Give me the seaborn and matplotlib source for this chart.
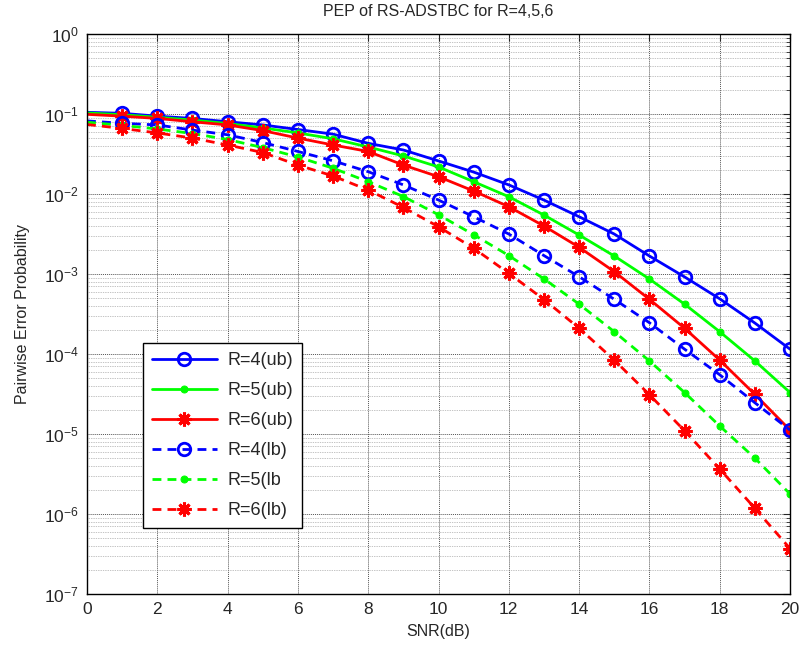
import numpy as np
import pandas as pd
import matplotlib
matplotlib.use("Agg")
import matplotlib.pyplot as plt
import seaborn as sns
from matplotlib.ticker import FixedLocator, NullFormatter, LogFormatterSciNotation

snr = list(range(0, 21))

r4_ub = [0.105, 0.102, 0.094, 0.088, 0.080, 0.073, 0.064, 0.056, 0.043, 0.0355, 0.0259,
         0.0188, 0.0130, 0.0084, 0.0052, 0.00316, 0.00168, 9.2e-4, 4.9e-4, 2.44e-4, 1.15e-4]
r5_ub = [0.103, 0.098, 0.091, 0.084, 0.076, 0.067, 0.058, 0.049, 0.0387, 0.0299, 0.0218,
         0.01425, 0.00925, 0.00546, 0.00307, 0.00168, 8.66e-4, 4.2e-4, 1.9e-4, 8.2e-5, 3.3e-5]
r6_ub = [0.099, 0.094, 0.088, 0.080, 0.073, 0.062, 0.050, 0.041, 0.034, 0.0230, 0.01645,
         0.0109, 0.00694, 0.00398, 0.00216, 0.00107, 4.83e-4, 2.1e-4, 8.4e-5, 3.13e-5, 1.12e-5]
r4_lb = [0.082, 0.0765, 0.073, 0.063, 0.055, 0.044, 0.034, 0.026, 0.019, 0.013, 0.0084,
         0.0052, 0.00316, 0.0017, 9.25e-4, 4.83e-4, 2.46e-4, 1.15e-4, 5.5e-5, 2.46e-5, 1.12e-5]
r5_lb = [0.079, 0.072, 0.065, 0.057, 0.048, 0.038, 0.029, 0.021, 0.01425, 0.0093, 0.0055,
         0.0031, 0.0017, 8.7e-4, 4.2e-4, 1.9e-4, 8.2e-5, 3.3e-5, 1.26e-5, 5.0e-6, 1.78e-6]
r6_lb = [0.074, 0.066, 0.058, 0.050, 0.041, 0.033, 0.023, 0.0168, 0.0112, 0.0068, 0.0039,
         0.0021, 0.00102, 4.8e-4, 2.1e-4, 8.4e-5, 3.1e-5, 1.1e-5, 3.65e-6, 1.18e-6, 3.7e-7]

labels = ["R=4(ub)", "R=5(ub)", "R=6(ub)", "R=4(lb)", "R=5(lb", "R=6(lb)"]
series = [r4_ub, r5_ub, r6_ub, r4_lb, r5_lb, r6_lb]
colors = ["#0000ff", "#00ff00", "#ff0000", "#0000ff", "#00ff00", "#ff0000"]
styles = ["-", "-", "-", "--", "--", "--"]
markers = ["o", ".", (8, 2, 0), "o", ".", (8, 2, 0)]
y_ticks = [1e-7, 1e-6, 1e-5, 1e-4, 1e-3, 1e-2, 1e-1, 1e0]
x_ticks = list(range(0, 21, 2))

sns.set_style("white")
plt.rcParams['font.family'] = ['Liberation Sans', 'DejaVu Sans']

fig = plt.figure(figsize=(8.04, 6.53), dpi=100)
ax = fig.add_axes([87/804, 1-594/653, (790-87)/804, (594-34)/653])

for lab, vals, c, ls, m in zip(labels, series, colors, styles, markers):
    df = pd.DataFrame({"SNR": snr, "PEP": vals})
    mkw = dict(marker=m, markevery=list(range(1, 21)))
    if m == "o":
        mkw.update(markersize=9, markerfacecolor="none", markeredgecolor=c, markeredgewidth=2.0)
    elif m == ".":
        mkw.update(markersize=10, markerfacecolor=c, markeredgecolor=c)
    else:
        mkw.update(markersize=10, markerfacecolor=c, markeredgecolor=c, markeredgewidth=2.2)
    line_kw = dict(linewidth=2.0)
    if ls == "--":
        line_kw["dashes"] = (3.2, 2.2)
    sns.lineplot(data=df, x="SNR", y="PEP", ax=ax, color=c, label=lab, **line_kw, **mkw)

ax.set_yscale("log")
ax.set_xlim(0, 20)
ax.set_ylim(1e-7, 1)
ax.xaxis.set_major_locator(FixedLocator(x_ticks))
ax.yaxis.set_major_locator(FixedLocator(y_ticks))
ax.yaxis.set_major_formatter(LogFormatterSciNotation())
minor = [m * 10.0**e for e in range(-7, 0) for m in range(2, 10)]
ax.yaxis.set_minor_locator(FixedLocator(minor))
ax.yaxis.set_minor_formatter(NullFormatter())

ax.grid(True, which="major", color="#555555", linestyle=(0, (1, 1)), linewidth=0.7)
ax.grid(True, which="minor", axis="y", color="#888888", linestyle=(0, (1, 1.5)), linewidth=0.5)
ax.tick_params(which="both", direction="in", top=True, right=True, labelsize=12.5)
ax.tick_params(which="major", length=5, pad=6)
ax.tick_params(which="minor", length=3)
for sp in ax.spines.values():
    sp.set_color("black")
    sp.set_linewidth(1.0)

ax.set_title("PEP of RS-ADSTBC for R=4,5,6", fontsize=11.5, pad=13)
ax.set_xlabel("SNR(dB)", fontsize=11.5, labelpad=5)
ax.set_ylabel("Pairwise Error Probability", fontsize=11.5, labelpad=10)

leg = ax.legend(loc="upper left", bbox_to_anchor=(0.079, 0.448), fontsize=13,
                handlelength=3.6, labelspacing=0.72, borderpad=0.5, fancybox=False,
                framealpha=1, edgecolor="black", borderaxespad=0, handletextpad=0.6)
leg.get_frame().set_linewidth(1.0)

fig.savefig("out.png", dpi=100)
